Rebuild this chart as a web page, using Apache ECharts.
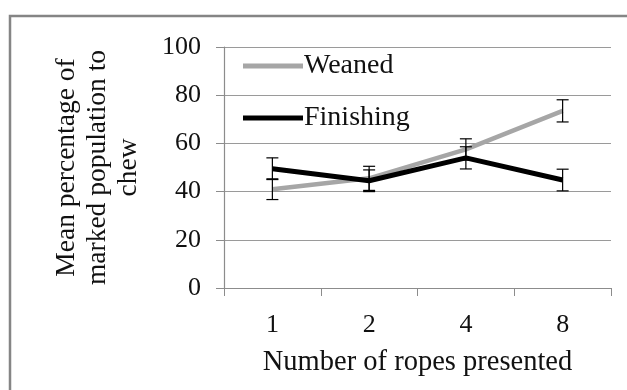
<!DOCTYPE html>
<html>
<head>
<meta charset="utf-8">
<script src="https://cdn.jsdelivr.net/npm/echarts@6/dist/echarts.min.js"></script>
<style>
html, body { margin: 0; padding: 0; background: #fff; }
#chart { width: 627px; height: 390px; }
</style>
</head>
<body>
<div id="chart"></div>
<script>
// number of ropes presented
var categories = ['1', '2', '4', '8'];
// mean % of marked population to chew, with error bar half-widths
var weaned = [41, 45.5, 57.5, 73.5];
var weanedErr = [4.3, 5, 4.4, 4.6];
var finishing = [49.5, 44.5, 54, 44.8];
var finishingErr = [4.5, 4.5, 4.6, 4.5];
var yTicks = [0, 20, 40, 60, 80, 100];

var font = '"Liberation Serif", "Times New Roman", serif';

function errData(vals, errs) {
    var out = [];
    for (var i = 0; i < vals.length; i++) {
        out.push([i, vals[i] - errs[i], vals[i] + errs[i]]);
    }
    return out;
}

// draw an error bar (vertical stem + two caps)
function renderErr(params, api) {
    var lo = api.coord([api.value(0), api.value(1)]);
    var hi = api.coord([api.value(0), api.value(2)]);
    var half = 6;
    var st = { stroke: '#000', lineWidth: 1.2 };
    return {
        type: 'group',
        children: [
            { type: 'line', shape: { x1: lo[0], y1: lo[1], x2: hi[0], y2: hi[1] }, style: st },
            { type: 'line', shape: { x1: lo[0] - half, y1: lo[1], x2: lo[0] + half, y2: lo[1] }, style: st },
            { type: 'line', shape: { x1: hi[0] - half, y1: hi[1], x2: hi[0] + half, y2: hi[1] }, style: st }
        ]
    };
}

var myChart = echarts.init(document.getElementById('chart'));
var options = {
    animation: false,
    textStyle: { fontFamily: font },
    graphic: [
        {
            type: 'rect',
            shape: { x: 10, y: 16, width: 700, height: 500 },
            style: { fill: 'none', stroke: '#858585', lineWidth: 2.5 },
            silent: true
        }
    ],
    grid: { left: 224, right: 16, top: 47, bottom: 102 },
    legend: {
        orient: 'vertical',
        left: 238,
        top: 47,
        itemWidth: 60,
        itemHeight: 5,
        itemGap: 24,
        icon: 'rect',
        textStyle: { fontFamily: font, fontSize: 28, color: '#111', padding: [0, 0, 0, -4] },
        data: ['Weaned', 'Finishing']
    },
    xAxis: {
        type: 'category',
        data: categories,
        boundaryGap: true,
        axisLine: { lineStyle: { color: '#8c8c8c', width: 1.2 } },
        axisTick: { show: true, length: 8, lineStyle: { color: '#8c8c8c' } },
        axisLabel: { fontFamily: font, fontSize: 26, color: '#111', margin: 24 },
        name: 'Number of ropes presented',
        nameLocation: 'middle',
        nameGap: 60,
        nameTextStyle: { fontFamily: font, fontSize: 28.5, color: '#111' }
    },
    yAxis: {
        type: 'value',
        min: 0,
        max: 100,
        interval: 20,
        axisLine: { show: true, lineStyle: { color: '#8c8c8c', width: 1.2 } },
        axisTick: { show: true, length: 8, lineStyle: { color: '#8c8c8c' } },
        splitLine: { lineStyle: { color: '#9a9a9a', width: 1.2 } },
        axisLabel: {
            fontFamily: font, fontSize: 26, color: '#111', margin: 23,
            formatter: function (v) { return yTicks.indexOf(v) >= 0 ? String(v) : ''; }
        },
        name: 'Mean percentage of\nmarked population to\nchew',
        nameLocation: 'middle',
        nameRotate: 90,
        nameGap: 80,
        nameTextStyle: { fontFamily: font, fontSize: 27.5, lineHeight: 31, color: '#111', align: 'center' }
    },
    series: [
        {
            name: 'Weaned',
            type: 'line',
            data: weaned,
            symbol: 'none',
            itemStyle: { color: '#a6a6a6' },
            lineStyle: { color: '#a6a6a6', width: 4.5 },
            z: 2
        },
        {
            name: 'Finishing',
            type: 'line',
            data: finishing,
            symbol: 'none',
            itemStyle: { color: '#000' },
            lineStyle: { color: '#000', width: 5 },
            z: 3
        },
        {
            type: 'custom',
            renderItem: renderErr,
            data: errData(weaned, weanedErr),
            encode: { x: 0, y: [1, 2] },
            z: 4
        },
        {
            type: 'custom',
            renderItem: renderErr,
            data: errData(finishing, finishingErr),
            encode: { x: 0, y: [1, 2] },
            z: 4
        }
    ]
};
myChart.setOption(options);
</script>
</body>
</html>
